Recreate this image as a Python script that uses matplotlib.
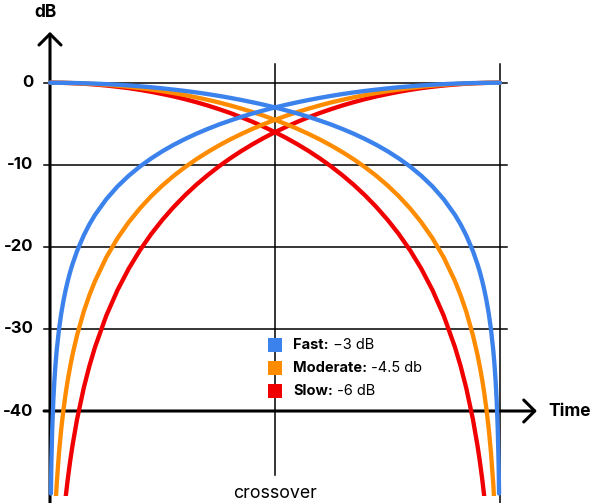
import matplotlib
matplotlib.use('Agg')
import matplotlib.pyplot as plt
from matplotlib.patches import Rectangle

plt.rcParams['font.family'] = ['Inter', 'DejaVu Sans']

# Time (0 = start of fade, 1 = end), gain of the fading-in signal in dB
time = [0.002, 0.003, 0.005, 0.0075, 0.01, 0.0125, 0.015, 0.02, 0.025, 0.03,
        0.035, 0.04, 0.045, 0.05, 0.06, 0.075, 0.0875, 0.1, 0.125, 0.15, 0.175,
        0.2, 0.225, 0.25, 0.275, 0.3, 0.325, 0.35, 0.375, 0.4, 0.425, 0.45,
        0.475, 0.5, 0.525, 0.55, 0.575, 0.6, 0.625, 0.65, 0.675, 0.7, 0.725,
        0.75, 0.775, 0.8, 0.825, 0.85, 0.875, 0.9, 0.925, 0.95, 0.975, 1.0]
fast_db = [-50.06, -46.54, -42.10, -38.58, -36.08, -34.14, -32.56, -30.06, -28.12,
           -26.54, -25.20, -24.04, -23.02, -22.11, -20.53, -18.60, -17.26, -16.11,
           -14.20, -12.64, -11.33, -10.20, -9.22, -8.34, -7.56, -6.86, -6.22,
           -5.64, -5.10, -4.62, -4.16, -3.75, -3.37, -3.01, -2.68, -2.38, -2.10,
           -1.84, -1.60, -1.38, -1.18, -1.00, -0.84, -0.69, -0.55, -0.44, -0.33,
           -0.24, -0.17, -0.11, -0.06, -0.03, -0.01, 0.0]
moderate_db = [-75.09, -69.80, -63.15, -57.86, -54.12, -51.21, -48.83, -45.09,
               -42.18, -39.81, -37.80, -36.06, -34.53, -33.16, -30.79, -27.89,
               -25.90, -24.17, -21.29, -18.95, -16.99, -15.30, -13.82, -12.51,
               -11.34, -10.29, -9.33, -8.46, -7.66, -6.92, -6.25, -5.62, -5.05,
               -4.52, -4.02, -3.57, -3.15, -2.76, -2.40, -2.08, -1.78, -1.50,
               -1.26, -1.03, -0.83, -0.65, -0.50, -0.36, -0.25, -0.16, -0.09,
               -0.04, -0.01, 0.0]
slow_db = [-100.11, -93.07, -84.20, -77.15, -72.16, -68.28, -65.11, -60.12, -56.24,
           -53.08, -50.40, -48.08, -46.04, -44.21, -41.05, -37.19, -34.53, -32.23,
           -28.39, -25.27, -22.65, -20.40, -18.43, -16.69, -15.13, -13.72, -12.44,
           -11.28, -10.21, -9.23, -8.33, -7.50, -6.73, -6.02, -5.37, -4.76, -4.20,
           -3.68, -3.21, -2.77, -2.37, -2.00, -1.67, -1.38, -1.11, -0.87, -0.66,
           -0.49, -0.34, -0.22, -0.12, -0.05, -0.01, 0.0]

series = [
    ('Slow:', ' -6 dB', '#f00000', slow_db),
    ('Moderate:', ' -4.5 db', '#ff8c00', moderate_db),
    ('Fast:', ' \u22123 dB', '#3b82ec', fast_db),
]
y_ticks = [0, -10, -20, -30, -40]

fig = plt.figure(figsize=(5.93, 5.03), dpi=100)
ax = fig.add_axes([0, 0, 1, 1])
ax.set_xlim(-0.1111, 1.2067)
ax.set_ylim(-51.21, 10.08)
ax.axis('off')

# grid
for y in y_ticks[:-1]:
    ax.plot([-0.0133, 1.0156], [y, y], color='black', lw=1.1, zorder=1)
ax.plot([0.5, 0.5], [2.3, -47.8], color='black', lw=1.1, zorder=1)
ax.plot([1.0, 1.0], [2.3, -60], color='black', lw=1.1, zorder=1)

# axes with arrows
ax.annotate('', xy=(0, 6.2), xytext=(0, -60),
            arrowprops=dict(arrowstyle='->,head_length=0.55,head_width=0.55',
                            lw=2.2, color='black', mutation_scale=14.4,
                            shrinkA=0, shrinkB=0), zorder=2)
ax.annotate('', xy=(1.082, -40), xytext=(-0.0133, -40),
            arrowprops=dict(arrowstyle='->,head_length=0.55,head_width=0.55',
                            lw=2.2, color='black', mutation_scale=14.4,
                            shrinkA=0, shrinkB=0), zorder=2)

for y in y_ticks:
    ax.text(-0.037, y, str(y), ha='right', va='center', fontsize=12,
            fontweight='bold')
ax.text(-0.009, 8.6, 'dB', ha='center', va='center', fontsize=12.5,
        fontweight='bold')
ax.text(1.107, -40, 'Time', ha='left', va='center', fontsize=12.5,
        fontweight='bold')
ax.text(0.5, -50.0, 'crossover', ha='center', va='center', fontsize=12.8)

# curves stop a little above the bottom edge
clip = Rectangle((-0.2, -50.4), 1.5, 70, transform=ax.transData)

# curves: fade in and mirrored fade out
for name, value, color, db in series:
    l1, = ax.plot(time, db, color=color, lw=3.1, solid_capstyle='round',
                  zorder=3)
    l2, = ax.plot([1 - t for t in time], db, color=color, lw=3.1,
                  solid_capstyle='round', zorder=3)
    l1.set_clip_path(clip)
    l2.set_clip_path(clip)

# legend
rows = [-31.96, -34.76, -37.56]
for (name, value, color, db), y in zip(series[::-1], rows):
    ax.scatter([0.501], [y], marker='s', s=115, color=color, zorder=4,
               linewidths=0)
    t = ax.text(0.54, y, name, ha='left', va='center', fontsize=10.5,
                fontweight='bold', zorder=4)
    ax.annotate(value, xycoords=t, xy=(1, 0.5), ha='left', va='center',
                fontsize=10.5, zorder=4)

fig.savefig('out.png', dpi=100)
